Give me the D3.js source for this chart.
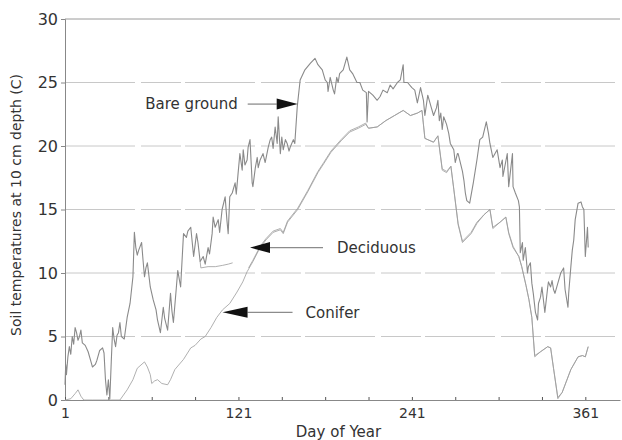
<!DOCTYPE html>
<html>
<head>
<meta charset="utf-8">
<script src="https://cdn.jsdelivr.net/npm/d3@7/dist/d3.min.js"></script>
<style>
  body { margin: 0; background: #fff; }
  text { font-family: "DejaVu Sans", sans-serif; fill: #333; }
</style>
</head>
<body>
<div id="chart"></div>
<script>
// Soil temperature at 10 cm depth as [day, temp]
const bareGround = [
  [1,1.2],[1.5,2.8],[2,2.0],[3,3.4],[4,4.2],[5,3.6],[6,5.0],[7,4.4],[8,5.7],[9,5.3],[10,4.7],[11,5.0],[12,5.5],[13,4.5],
  [15,4.3],[17,3.8],[19,3.0],[20,2.6],[22,2.8],[23,3.1],[25,3.9],[27,4.1],[28,3.7],[29,1.6],[30,0.4],[31,1.6],[32,0.1],
  [33,3.0],[34,5.7],[35,4.8],[36,4.2],[37,5.1],[38,5.3],[39,6.1],[40,5.0],[42,4.8],[44,6.5],[46,7.6],[48,9.7],[49,13.2],
  [50,12.0],[51,11.4],[52,11.8],[54,12.4],[55,11.0],[56,9.7],[57,10.4],[58,10.8],[60,8.9],[62,7.9],[64,7.1],[65,6.3],
  [67,5.3],[69,7.3],[70,6.4],[72,5.5],[74,8.4],[75,7.0],[76,6.1],[78,8.8],[79,10.2],[81,8.9],[82,11.0],[83,13.1],[85,12.8],
  [86,13.3],[88,13.6],[90,11.3],[91,12.2],[92,13.1],[93,12.4],[94.5,10.9],[96.6,11.3],[98,10.7],[100,12.0],[101,11.5],
  [102.8,13.1],[103.5,14.4],[104.9,13.6],[107,14.2],[108,13.2],[109.7,15.0],[111.8,16.0],[113,14.2],[113.9,13.1],[115,16.0],
  [116.7,16.3],[118.7,17.1],[119.5,16.2],[120.8,17.9],[122,19.4],[123.6,18.1],[124.3,19.7],[125.5,18.5],[127,18.9],
  [127.7,19.9],[129,20.5],[130.5,17.1],[131,16.8],[132.7,18.3],[134,19.1],[134.7,18.3],[136,18.9],[138,19.4],[139.5,18.7],
  [141.6,19.9],[143,20.5],[144,20.7],[145,19.8],[146.4,21.5],[147.8,20.2],[148.5,22.3],[150,19.4],[151,20.7],[152,19.7],
  [153.5,20.5],[154.7,20.2],[156,19.6],[156.8,19.9],[159,20.5],[160,20.2],[161.7,23.1],[163.7,25.2],[167,26.0],[170.7,26.5],
  [174,26.9],[176,26.4],[179,26.0],[181,25.2],[182.5,25.0],[183,24.3],[184.5,25.4],[186.6,24.4],[187.5,24.1],[189,25.4],
  [190,25.0],[191,25.7],[193.5,26.0],[196,27.0],[198,26.0],[200,25.7],[203,25.0],[205,25.0],[207,24.4],[209.5,24.2],
  [210,21.9],[211,24.3],[214,24.0],[217,23.6],[219,23.9],[221,24.4],[224,24.2],[226,24.8],[228,24.5],[231,25.0],[233,25.2],
  [235,26.4],[235.5,25.0],[238,25.0],[241,24.6],[243,24.4],[244.8,23.4],[247,24.6],[249,23.6],[250,22.4],[252,24.0],
  [254,23.2],[256,22.4],[258,23.0],[259,23.6],[260,22.0],[261,22.6],[262,21.3],[263,22.3],[265,21.7],[266.5,21.0],
  [267.6,20.2],[270,19.7],[271,18.7],[272.5,19.4],[273,19.4],[276,18.0],[277,17.3],[278,16.3],[279,15.7],[281,15.5],
  [283.5,17.1],[286,18.9],[288,20.5],[290,20.7],[292.5,21.9],[294,21.0],[295,20.2],[297,19.1],[300,19.7],[302,18.3],
  [303.6,18.9],[304,17.6],[307,19.4],[308,16.8],[310.6,19.4],[311,16.8],[312.6,16.3],[314.7,15.7],[315.4,15.2],[316,11.6],
  [317.5,12.4],[318,11.0],[319.5,12.0],[321,10.0],[321.6,10.5],[323,10.8],[324,9.2],[325,8.4],[326.5,6.9],[328,6.3],
  [328.6,7.6],[330,8.1],[331,8.9],[332,7.9],[333,6.9],[335,8.9],[335.5,9.3],[337,8.9],[338,9.4],[339,8.7],[340,8.4],
  [342,9.2],[344,10.0],[346,10.4],[347,8.7],[349,7.3],[349.5,8.4],[351,10.5],[352,11.8],[353,12.6],[354,14.2],[356,15.5],
  [358,15.6],[359,15.2],[360,15.0],[361,11.3],[362.5,13.6],[363,12.0]
];

// deciduous record starts late in spring and has a short gap (null)
const deciduous = [
  [94.5,10.9],[95,10.4],[100,10.5],[105,10.5],[110,10.6],[114,10.7],[117,10.8],[118,null],
  [128,10.4],[131,11.0],[136,12.1],[140,12.7],[145,13.3],[150,13.5],[152,13.2],[155,14.1],[162,15.1],[169,16.5],
  [176,18.0],[180,18.7],[185,19.6],[192,20.5],[198,21.2],[204,21.5],[209,21.8],[211,21.4],[217,21.5],[223,22.0],
  [229,22.4],[235,22.8],[240,22.4],[245,22.6],[248,22.8],[250,20.6],[256,20.3],[259,20.8],[262,18.2],[265,18.0],
  [268,18.4],[270,16.6],[273,13.9],[276,12.5],[282,13.2],[286,14.0],[291,14.6],[295,15.0],[297,13.6],[302,14.0],
  [306,14.4],[308,13.2],[311,12.1],[315,11.3],[317,10.5],[320,9.0],[322,7.9],[324,6.5],[326,3.5],[330,3.8],[335,4.2],
  [337,4.1],[339,2.5],[342,0.2],[345,0.6],[348,1.5],[351,2.4],[356,3.4],[359,3.5],[361,3.4],[363,4.2]
];

const conifer = [
  [1,0],[5,0.1],[8,0.5],[10,0.8],[12,0.3],[14,0],[20,0],[27,0],[33,0],[39,0],[44,0.8],[48,1.6],[51,2.5],[56,3.0],
  [58,2.6],[60,2.0],[61,1.3],[63,1.5],[65,1.6],[68,1.3],[72,1.2],[74,1.6],[77,2.4],[83,3.2],[88,4.1],[91,4.3],[95,4.8],
  [98,5.0],[102,5.7],[106,6.5],[110,7.1],[115,7.6],[120,8.5],[124,9.3],[127,10.1],[131,10.9],[136,12.0],[140,12.6],
  [145,13.2],[150,13.4],[152,13.1],[155,14.0],[162,15.0],[169,16.4],[176,17.9],[180,18.6],[185,19.5],[192,20.4],
  [198,21.1],[204,21.4],[209,21.7],[211,21.4],[217,21.5],[223,22.0],[229,22.4],[235,22.8],[240,22.4],[245,22.6],
  [248,22.8],[250,20.6],[256,20.3],[259,20.8],[262,18.1],[265,17.9],[268,18.4],[270,16.6],[273,13.8],[276,12.4],
  [282,13.1],[286,13.9],[291,14.6],[295,15.0],[297,13.5],[302,14.0],[306,14.4],[308,13.1],[311,12.0],[315,11.3],
  [317,10.5],[320,9.0],[322,7.9],[324,6.5],[326,3.4],[330,3.8],[335,4.2],[337,4.1],[339,2.5],[342,0.1],[345,0.6],
  [348,1.5],[351,2.4],[356,3.4],[359,3.5],[361,3.4],[363,4.2]
];

const seriesNames = ["Bare ground", "Deciduous", "Conifer"];
const yTicks = [0, 5, 10, 15, 20, 25, 30];
const xTicks = [1, 31, 61, 91, 121, 151, 181, 211, 241, 271, 301, 331, 361];
const xTickLabels = [1, 121, 241, 361];
// where each label arrow points: [day, temp]
const arrowTargets = [[162, 23.3], [129, 12.0], [110, 6.9]];

const width = 622, height = 440;
const margin = {top: 19, right: 2, bottom: 40, left: 65};

const svg = d3.select("#chart").append("svg")
  .attr("width", width)
  .attr("height", height);

const x = d3.scaleLinear().domain([1, 385]).range([margin.left, width - margin.right]);
const y = d3.scaleLinear().domain([0, 30]).range([height - margin.bottom, margin.top]);

// horizontal grid lines
svg.append("g")
  .selectAll("line")
  .data(yTicks.filter(d => d > 0))
  .enter()
  .append("line")
  .attr("x1", x(1)).attr("x2", width - 2)
  .attr("y1", d => y(d)).attr("y2", d => y(d))
  .attr("stroke", d => d == 30 ? "#9a9a9a" : "#c8c8c8")
  .attr("stroke-width", 1)
  .attr("stroke-dasharray", d => d == 30 ? null : "70,6,40,4");

// y axis
const yAxis = svg.append("g")
  .attr("transform", "translate(" + margin.left + ",0)")
  .call(d3.axisLeft(y).tickValues(yTicks).tickSize(4).tickPadding(3).tickFormat(d3.format("d")));
yAxis.select(".domain").attr("stroke", "#888");
yAxis.selectAll(".tick line").attr("stroke", "#888");
yAxis.selectAll("text").style("font-size", "16px").attr("fill", "#3a3a3a");

// x axis, small ticks every 30 days, labels every 120
const xAxis = svg.append("g")
  .attr("transform", "translate(0," + y(0) + ")")
  .call(d3.axisBottom(x).tickValues(xTicks).tickSizeInner(-3).tickSizeOuter(0).tickPadding(8)
    .tickFormat(d => xTickLabels.includes(d) ? d : ""));
xAxis.select(".domain").attr("stroke", "#888");
xAxis.selectAll(".tick line").attr("stroke", "#555");
xAxis.selectAll("text").style("font-size", "14px").attr("fill", "#3a3a3a");

// axis titles
svg.append("text")
  .attr("x", x(1) + (width - margin.left) / 2 - 5)
  .attr("y", 437)
  .attr("text-anchor", "middle")
  .style("font-size", "15px")
  .text("Day of Year");

svg.append("text")
  .attr("transform", "translate(21," + 205 + ") rotate(-90)")
  .attr("text-anchor", "middle")
  .style("font-size", "14px")
  .text("Soil temperatures at 10 cm depth (C)");

// the three lines
const line = d3.line()
  .defined(d => d[1] !== null)
  .x(d => x(d[0]))
  .y(d => y(d[1]));

const series = [conifer, deciduous, bareGround];
svg.selectAll("path.series")
  .data(series)
  .enter()
  .append("path")
  .attr("class", "series")
  .attr("d", line)
  .attr("fill", "none")
  .attr("stroke", (d, i) => i == 2 ? "#8a8a8a" : "#9c9c9c")
  .attr("stroke-width", (d, i) => i == 2 ? 1.1 : 0.8)
  .attr("stroke-linejoin", "round");

// labels with arrows pointing at the lines
// Bare ground arrow points right, the other two point left
const arrows = [
  {name: seriesNames[0], dir: 1, head: 21, shaft: 50, gap: 10},
  {name: seriesNames[1], dir: -1, head: 20, shaft: 73, gap: 14},
  {name: seriesNames[2], dir: -1, head: 25, shaft: 70, gap: 13}
];

arrows.forEach((a, i) => {
  const tx = x(arrowTargets[i][0]);
  const ty = y(arrowTargets[i][1]);
  const g = svg.append("g");
  const base = tx - a.dir * a.head;
  const tail = tx - a.dir * a.shaft;
  g.append("line")
    .attr("x1", tail).attr("x2", base)
    .attr("y1", ty).attr("y2", ty)
    .attr("stroke", "#8c8c8c")
    .attr("stroke-width", 1.3);
  g.append("path")
    .attr("d", "M" + tx + "," + ty + "L" + base + "," + (ty - 5.5) + "L" + base + "," + (ty + 5.5) + "Z")
    .attr("fill", "#111");
  g.append("text")
    .attr("x", tail - a.dir * a.gap)
    .attr("y", ty)
    .attr("dy", "0.35em")
    .attr("text-anchor", a.dir == 1 ? "end" : "start")
    .style("font-size", "15px")
    .text(a.name);
});
</script>
</body>
</html>
